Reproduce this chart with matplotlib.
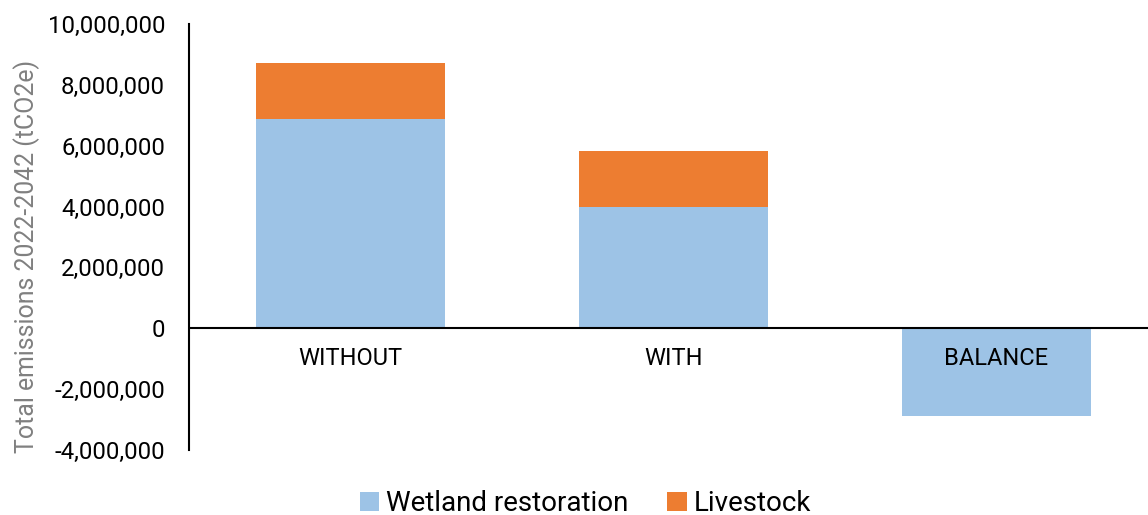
import matplotlib
matplotlib.use("Agg")
import matplotlib.pyplot as plt
from matplotlib.ticker import FuncFormatter
from matplotlib.patches import Patch

categories = ["WITHOUT", "WITH", "BALANCE"]
wetland = [6880000, 3980000, -2890000]
livestock = [1830000, 1840000, 0]
y_ticks = [-4000000, -2000000, 0, 2000000, 4000000, 6000000, 8000000, 10000000]

BLUE = "#9DC3E6"
ORANGE = "#ED7D31"

plt.rcParams["font.family"] = ["Roboto", "DejaVu Sans"]

fig = plt.figure(figsize=(11.48, 5.15), dpi=100)
ax = fig.add_axes([0.1644, 0.1262, 0.8356, 0.8272])

x = list(range(len(categories)))
width = 0.585
ax.bar(x, wetland, width, color=BLUE, label="Wetland restoration", zorder=2)
ax.bar(x, livestock, width, bottom=wetland, color=ORANGE, label="Livestock", zorder=2)

ax.set_xlim(-0.5, 2.47)
ax.set_ylim(-4000000, 10000000)
ax.set_yticks(y_ticks)
ax.yaxis.set_major_formatter(FuncFormatter(lambda v, p: f"{int(v):,}"))
ax.tick_params(axis="y", length=0, pad=17, labelsize=17.2, labelcolor="#000000")
ax.set_xticks([])

for s in ["top", "right", "bottom"]:
    ax.spines[s].set_visible(False)
ax.spines["left"].set_linewidth(1.5)
ax.spines["left"].set_color("#000000")
ax.axhline(0, color="#000000", linewidth=1.5, zorder=3)

for xi, name in zip(x, categories):
    ax.text(xi, -1000000, name, ha="center", va="center", fontsize=17, color="#000000", zorder=4)

ax.set_ylabel("Total emissions 2022-2042 (tCO2e)", fontsize=17.9, color="#808080")
ax.yaxis.set_label_coords(-0.155, 0.455)

handles = [Patch(facecolor=BLUE, label="Wetland restoration"),
           Patch(facecolor=ORANGE, label="Livestock")]
fig.legend(handles=handles, loc="center", bbox_to_anchor=(0.51, 0.022), ncol=2,
           frameon=False, fontsize=20, handlelength=0.7, handleheight=0.7,
           handletextpad=0.25, columnspacing=1.4)

fig.savefig("out.png", dpi=100)
